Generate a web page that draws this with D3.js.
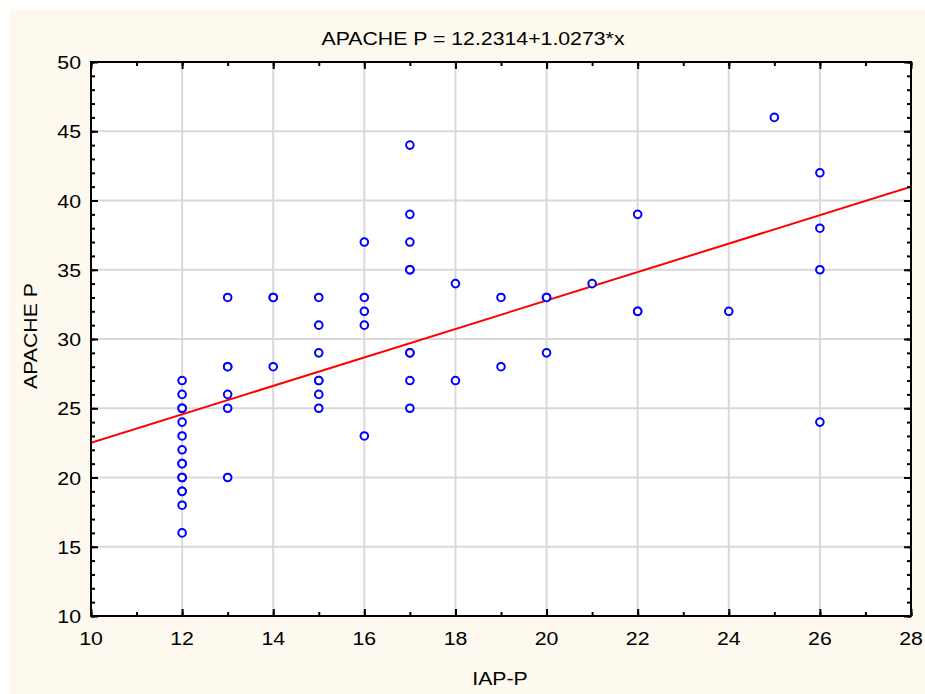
<!DOCTYPE html>
<html>
<head>
<meta charset="utf-8">
<script src="https://cdn.jsdelivr.net/npm/d3@7/dist/d3.min.js"></script>
<style>
  html, body { margin: 0; padding: 0; background: #ffffff; }
  svg { display: block; }
  text { font-family: "Liberation Sans", Arial, sans-serif; fill: #000; }
</style>
</head>
<body>
<svg id="chart" width="925" height="694"></svg>
<script>
// IAP-P (x) against APACHE P (y), one entry per patient
const iapP = [
  12, 12, 12, 12, 12, 12, 12, 12, 12, 12, 12, 12, 12, 12, 12,
  13, 13, 13, 13, 13, 13,
  14, 14, 14,
  15, 15, 15, 15, 15, 15, 15,
  16, 16, 16, 16, 16,
  17, 17, 17, 17, 17, 17, 17, 17, 17,
  18, 18,
  19, 19,
  20, 20, 20,
  21,
  22, 22, 22,
  24,
  25,
  26, 26, 26, 26
];
const apacheP = [
  27, 26, 25, 25, 24, 23, 22, 21, 21, 20, 20, 19, 19, 18, 16,
  33, 28, 28, 26, 25, 20,
  33, 33, 28,
  33, 31, 29, 27, 27, 26, 25,
  37, 33, 32, 31, 23,
  44, 39, 37, 35, 35, 29, 29, 27, 25,
  34, 27,
  33, 28,
  33, 33, 29,
  34,
  39, 32, 32,
  32,
  46,
  42, 38, 35, 24
];

// Fitted line: APACHE P = intercept + slope * x
const intercept = 12.2314;
const slope = 1.0273;

const xTicks = [10, 12, 14, 16, 18, 20, 22, 24, 26, 28];
const yTicks = [10, 15, 20, 25, 30, 35, 40, 45, 50];
const xMinor = d3.range(10, 29, 1);
const yMinor = d3.range(10, 51, 1);

const titleText = "APACHE P = 12.2314+1.0273*x";
const xTitle = "IAP-P";
const yTitle = "APACHE P";

const W = 925, H = 694;
const plot = { left: 91, right: 911, top: 62, bottom: 616 };
const fontSize = 19;
const stretch = 1.12;   // text is set slightly wide

const svg = d3.select("#chart");

// page background with a thin white rim at top/left
svg.append("rect").attr("x", 0).attr("y", 0).attr("width", W).attr("height", H).attr("fill", "#ffffff");
svg.append("rect").attr("x", 9).attr("y", 9).attr("width", W - 9).attr("height", H - 9).attr("fill", "#fdf9ee");

const x = d3.scaleLinear().domain([10, 28]).range([plot.left, plot.right]);
const y = d3.scaleLinear().domain([10, 50]).range([plot.bottom, plot.top]);

svg.append("rect")
  .attr("x", plot.left).attr("y", plot.top)
  .attr("width", plot.right - plot.left).attr("height", plot.bottom - plot.top)
  .attr("fill", "#ffffff");

// grid
const grid = svg.append("g").attr("stroke", "#d9d9d9").attr("stroke-width", 2);
grid.selectAll("line.vx").data(xTicks.slice(1, -1)).join("line")
  .attr("x1", d => x(d)).attr("x2", d => x(d))
  .attr("y1", plot.top).attr("y2", plot.bottom);
grid.selectAll("line.hy").data(yTicks.slice(1, -1)).join("line")
  .attr("y1", d => y(d)).attr("y2", d => y(d))
  .attr("x1", plot.left).attr("x2", plot.right);

// regression line
svg.append("defs").append("clipPath").attr("id", "plotClip")
  .append("rect").attr("x", plot.left).attr("y", plot.top)
  .attr("width", plot.right - plot.left).attr("height", plot.bottom - plot.top);

const fitX = x.domain();
svg.append("line")
  .attr("clip-path", "url(#plotClip)")
  .attr("x1", x(fitX[0])).attr("y1", y(intercept + slope * fitX[0]))
  .attr("x2", x(fitX[1])).attr("y2", y(intercept + slope * fitX[1]))
  .attr("stroke", "#ff0000").attr("stroke-width", 2);

// points
svg.append("g").selectAll("circle").data(iapP.map((v, i) => [v, apacheP[i]])).join("circle")
  .attr("cx", d => x(d[0])).attr("cy", d => y(d[1]))
  .attr("r", 3.8)
  .attr("fill", "#ffffff")
  .attr("stroke", "#0000ff")
  .attr("stroke-width", 2);

// axes: all four sides, ticks pointing inward
function sideAxis(axisFn, scale, values, size, transform) {
  const g = svg.append("g").attr("transform", transform)
    .call(axisFn(scale).tickValues(values).tickSize(size).tickFormat(""));
  g.select(".domain").remove();
  g.selectAll(".tick line").attr("stroke", "#000").attr("stroke-width", 2);
  return g;
}
const majorLen = -7, minorLen = -4;
sideAxis(d3.axisBottom, x, xMinor, minorLen, `translate(0,${plot.bottom})`);
sideAxis(d3.axisBottom, x, xTicks, majorLen, `translate(0,${plot.bottom})`);
sideAxis(d3.axisTop, x, xMinor, minorLen, `translate(0,${plot.top})`);
sideAxis(d3.axisTop, x, xTicks, majorLen, `translate(0,${plot.top})`);
sideAxis(d3.axisLeft, y, yMinor, minorLen, `translate(${plot.left},0)`);
sideAxis(d3.axisLeft, y, yTicks, majorLen, `translate(${plot.left},0)`);
sideAxis(d3.axisRight, y, yMinor, minorLen, `translate(${plot.right},0)`);
sideAxis(d3.axisRight, y, yTicks, majorLen, `translate(${plot.right},0)`);

// frame
svg.append("rect")
  .attr("x", plot.left).attr("y", plot.top)
  .attr("width", plot.right - plot.left).attr("height", plot.bottom - plot.top)
  .attr("fill", "none").attr("stroke", "#000").attr("stroke-width", 2);

// text helper: place at (tx, ty), optional rotation, widened along its run
function label(g, tx, ty, str, anchor, rot) {
  return g.append("text")
    .attr("transform", `translate(${tx},${ty})` + (rot ? ` rotate(${rot})` : "") + ` scale(${stretch},1)`)
    .attr("text-anchor", anchor)
    .attr("font-size", fontSize)
    .text(str);
}

// tick labels
const xl = svg.append("g");
xTicks.forEach(d => label(xl, x(d), plot.bottom + 29, d, "middle"));
const yl = svg.append("g");
yTicks.forEach(d => label(yl, plot.left - 10, y(d) + 7, d, "end"));

// titles
label(svg, 473, 45, titleText, "middle");
label(svg, 500, 685, xTitle, "middle");
label(svg, 37, 336, yTitle, "middle", -90);
</script>
</body>
</html>
